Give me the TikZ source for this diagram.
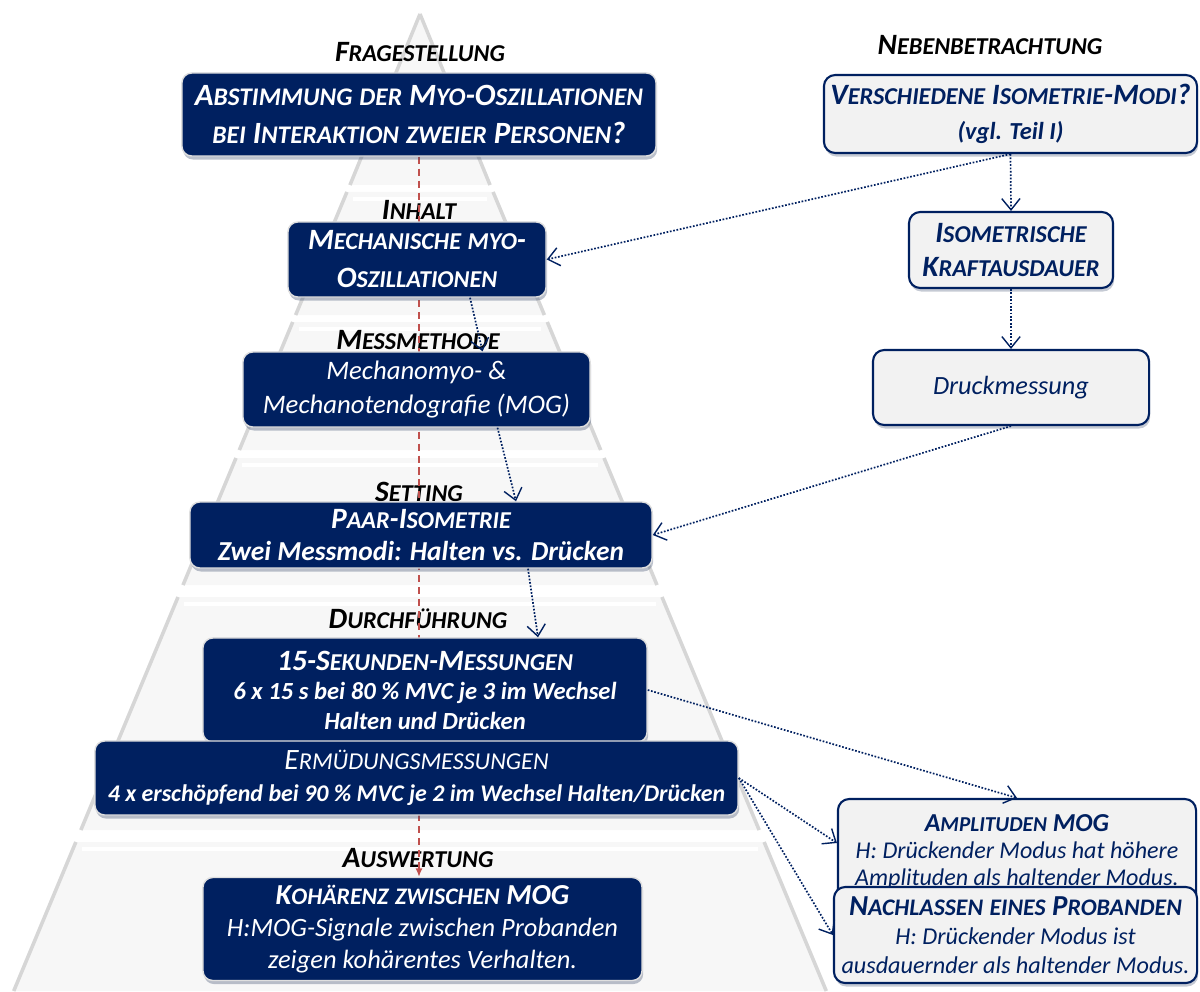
\documentclass[tikz,border=0pt]{standalone}
\usepackage{fontspec}
\setmainfont{Carlito}
\usetikzlibrary{calc, positioning, shadows, arrows.meta}
\definecolor{navy}{RGB}{0,32,96}
\definecolor{boxgray}{RGB}{242,242,242}
\definecolor{redline}{RGB}{192,80,77}
\pgfdeclarelayer{bg}
\pgfdeclarelayer{mid}
\pgfsetlayers{bg,mid,main}
\makeatletter
\newcommand\kap[2]{#1{\fontsize{\fpeval{0.82*\f@size}}{\f@baselineskip}\selectfont#2}}
\makeatother
\tikzstyle{darkbox}=[rectangle, rounded corners=7pt, fill=navy, draw=gray!25, line width=1pt, text=white, align=center, inner sep=2pt, drop shadow={shadow xshift=0.8pt, shadow yshift=-2.5pt, opacity=0.35, fill=navy!50!gray}]
\tikzstyle{lightbox}=[rectangle, rounded corners=8pt, fill=boxgray, draw=navy, line width=1.5pt, text=navy, align=center, inner sep=2pt, drop shadow={shadow xshift=0.8pt, shadow yshift=-2.5pt, opacity=0.3, fill=navy!50!gray}]
\tikzstyle{steplabel}=[font=\fontsize{21}{23}\selectfont\bfseries\itshape, inner sep=1pt]
\tikzstyle{hint}=[draw=navy, line width=1.2pt, dash pattern=on 1.2pt off 1.2pt, -{Straight Barb[length=8pt, width=13pt, line width=1pt]}]
\tikzstyle{slab}=[fill=gray!6]
\tikzstyle{rim}=[gray!32, line width=2.5pt]

\begin{document}
\begin{tikzpicture}[x=0.025cm, y=-0.025cm]
\useasboundingbox (0,0) rectangle (1200,991);
\begin{pgfonlayer}{bg}
%pyramid
\fill[slab] (420,12) -- (492,185) -- (348,185) -- cycle;
\draw[rim] (420,14) -- (350,185) (420,14) -- (490,185);
\foreach \t/\b in {192/315, 322/450, 458/585, 597/830, 842/991}{
	\pgfmathsetmacro\wt{0.417*(\t-12)}
	\pgfmathsetmacro\wb{0.417*(\b-12)}
	\fill[slab] ({420-\wt},\t) -- ({420+\wt},\t) -- ({420+\wb},\b) -- ({420-\wb},\b) -- cycle;
	\draw[rim] ({422-\wt},\t) -- ({422-\wb},\b) ({418+\wt},\t) -- ({418+\wb},\b);
	\draw[white, line width=3pt] ({428-\wt},\t+7) -- ({412+\wt},\t+7);
}
\node[steplabel] (lfrage) at (420,52) {\kap{F}{RAGESTELLUNG}};
\node[steplabel] (linhalt) at (419,210) {\kap{I}{NHALT}};
\node[steplabel] (lmess) at (418,340) {\kap{M}{ESSMETHODE}};
\node[steplabel] (lsetting) at (419,492) {\kap{S}{ETTING}};
\node[steplabel] (ldurch) at (418,619) {\kap{D}{URCHFÜHRUNG}};
\node[steplabel] (lausw) at (418,858) {\kap{A}{USWERTUNG}};
\node[steplabel] (lneben) at (990,45) {\kap{N}{EBENBETRACHTUNG}};
\end{pgfonlayer}

%pyramid boxes
\node[darkbox, minimum width=11.85cm, minimum height=2.075cm, font=\fontsize{22}{26.5}\selectfont\bfseries\itshape] (frage) at (419,114.5)
	{\kap{A}{BSTIMMUNG} \kap{}{DER} \kap{M}{YO}-\kap{O}{SZILLATIONEN}\\\kap{}{BEI} \kap{I}{NTERAKTION} \kap{}{ZWEIER} \kap{P}{ERSONEN}?};
\node[darkbox, minimum width=6.45cm, minimum height=1.875cm, font=\fontsize{21}{27}\selectfont\bfseries\itshape] (inhalt) at (417,259.5)
	{\kap{M}{ECHANISCHE} \kap{}{MYO}-\\\kap{O}{SZILLATIONEN}};
\node[darkbox, minimum width=8.675cm, minimum height=1.875cm, font=\fontsize{19}{24}\selectfont\itshape] (mess) at (416.5,389.5)
	{Mechanomyo- \&\\Mechanotendografie (MOG)};
\node[darkbox, minimum width=11.55cm, minimum height=1.65cm, font=\fontsize{19.5}{23}\selectfont\bfseries\itshape] (setting) at (421,535)
	{{\fontsize{21}{23}\selectfont\kap{P}{AAR}-\kap{I}{SOMETRIE}}\\Zwei Messmodi: Halten vs. Drücken};
\node[darkbox, minimum width=11.1cm, minimum height=2.6cm, font=\fontsize{17.5}{21}\selectfont\bfseries\itshape] (sek) at (425,690)
	{{\fontsize{21}{23}\selectfont 15-\kap{S}{EKUNDEN}-\kap{M}{ESSUNGEN}}\\6 x 15 s bei 80 \% MVC je 3 im Wechsel\\Halten und Drücken};
\node[darkbox, minimum width=16.075cm, minimum height=1.85cm, font=\fontsize{17}{23}\selectfont\bfseries\itshape] (ermued) at (416.5,778)
	{{\mdseries\fontsize{21}{23}\selectfont\kap{E}{RMÜDUNGSMESSUNGEN}}\\4 x erschöpfend bei 90 \% MVC je 2 im Wechsel Halten/Drücken};
\node[darkbox, minimum width=10.975cm, minimum height=2.575cm, font=\fontsize{18.8}{23}\selectfont\itshape] (ausw) at (422.5,929)
	{{\bfseries\fontsize{20.6}{22}\selectfont\kap{K}{OHÄRENZ} \kap{}{ZWISCHEN} MOG}\\H:MOG-Signale zwischen Probanden\\zeigen kohärentes Verhalten.};

%side boxes
\node[lightbox, minimum width=9.325cm, minimum height=1.95cm, font=\fontsize{21}{25}\selectfont\bfseries\itshape] (versch) at (1010.5,114)
	{\kap{V}{ERSCHIEDENE} \kap{I}{SOMETRIE}-\kap{M}{ODI}?\\{\fontsize{17.4}{18}\selectfont(vgl. Teil I)}};
\node[lightbox, minimum width=5.1cm, minimum height=1.9cm, font=\fontsize{21}{24}\selectfont\bfseries\itshape] (isokraft) at (1011,250)
	{\kap{I}{SOMETRISCHE}\\\kap{K}{RAFTAUSDAUER}};
\node[lightbox, minimum width=6.9cm, minimum height=1.875cm, font=\fontsize{18.7}{22}\selectfont\itshape] (druck) at (1011,387.5)
	{Druckmessung};
\node[lightbox, minimum width=8.95cm, minimum height=2.65cm, font=\fontsize{17.1}{19.5}\selectfont\itshape] (ampl) at (1017,852)
	{{\bfseries\fontsize{18.4}{19}\selectfont\kap{A}{MPLITUDEN} MOG}\\H: Drückender Modus hat höhere\\Amplituden als haltender Modus.};
\node[lightbox, minimum width=9.075cm, minimum height=2.4cm, font=\fontsize{17.2}{20.5}\selectfont\itshape] (nachl) at (1015.5,935)
	{{\bfseries\fontsize{20.6}{21}\selectfont\kap{N}{ACHLASSEN} \kap{}{EINES} \kap{P}{ROBANDEN}}\\H: Drückender Modus ist\\ausdauernder als haltender Modus.};

\begin{pgfonlayer}{mid}
\draw[redline, line width=1pt, dash pattern=on 5pt off 3.5pt, -{Latex[length=6pt, width=5pt]}] (frage.south) -- (frage.south |- ausw.north);
\end{pgfonlayer}

%dotted arrows
\draw[hint] (versch.south) -- (inhalt.east);
\draw[hint] (versch.south) -- (isokraft.north);
\draw[hint] (isokraft.south) -- (druck.north);
\draw[hint] (druck.south) -- (setting.east);
\draw[hint] ($(inhalt.south)+(53,0)$) -- ($(mess.north)+(66,0)$);
\draw[hint] ($(mess.south)+(81,0)$) -- ($(setting.north)+(95,0)$);
\draw[hint] ($(setting.south)+(107,0)$) -- ($(sek.north)+(113,0)$);
\draw[hint] (sek.east) -- (ampl.north);
\draw[hint] (ermued.east) -- ($(ampl.west)+(0,-9)$);
\draw[hint] (ermued.east) -- (nachl.west);
\end{tikzpicture}
\end{document}
